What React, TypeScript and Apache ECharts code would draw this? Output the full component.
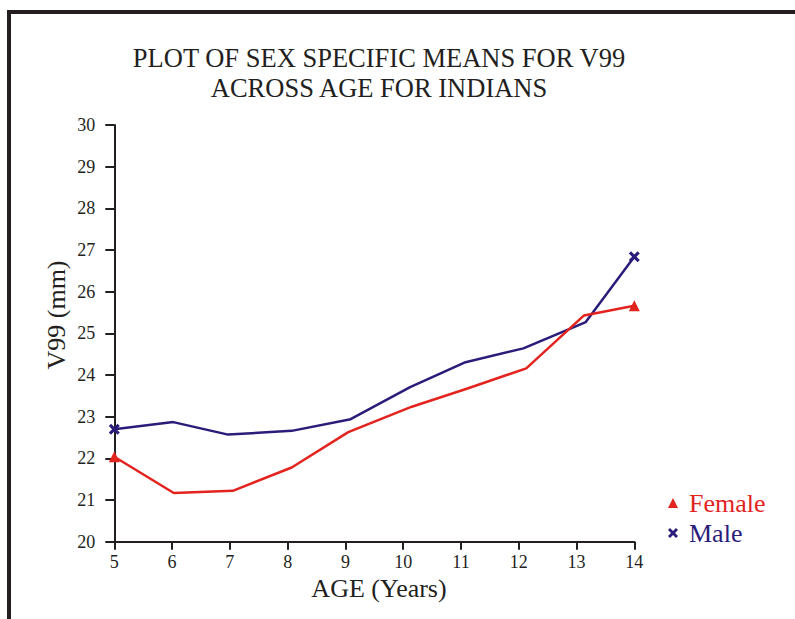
import React, { useEffect, useRef } from "react";
import * as echarts from "echarts";

const titleLines = ["PLOT OF SEX SPECIFIC MEANS FOR V99", "ACROSS AGE FOR INDIANS"];
const xAxisName = "AGE (Years)";
const yAxisName = "V99 (mm)";

const femaleAges = [5, 6.03, 7.05, 8.07, 9.05, 10.15, 11.1, 12.13, 13.13, 14];
const femaleMeans = [22.04, 21.17, 21.22, 21.78, 22.63, 23.24, 23.67, 24.16, 25.43, 25.66];

const maleAges = [5, 6.02, 6.97, 8.07, 9.09, 10.12, 11.06, 12.08, 13.16, 14];
const maleMeans = [22.7, 22.87, 22.57, 22.66, 22.94, 23.71, 24.3, 24.64, 25.27, 26.84];

const seriesNames = ["Female", "Male"];

const RED = "#e2231e";
const NAVY = "#2b1c7a";
const INK = "#231f20";
const FONT = "Liberation Serif";
const X_ICON = "path://M0,2L2,0L5,3L8,0L10,2L7,5L10,8L8,10L5,7L2,10L0,8L3,5Z";

function buildData(ages: number[], values: number[]) {
  return ages.map((a, i) => {
    const isEnd = i === 0 || i === ages.length - 1;
    return isEnd ? { value: [a, values[i]] } : { value: [a, values[i]], symbol: "none" };
  });
}

export default function App() {
  const ref = useRef<HTMLDivElement>(null);
  useEffect(() => {
    if (!ref.current) return;
    const chart = echarts.init(ref.current, undefined, { renderer: "svg" });
    chart.setOption({
      animation: false,
      backgroundColor: "#ffffff",
      textStyle: { fontFamily: FONT },
      title: {
        text: titleLines.join("\n"),
        left: 374,
        top: 38,
        textAlign: "center",
        textStyle: {
          fontFamily: FONT,
          fontSize: 26.5,
          fontWeight: "normal",
          color: INK,
          lineHeight: 30,
        },
      },
      legend: {
        orient: "vertical",
        left: 663,
        top: 485,
        itemWidth: 10,
        itemHeight: 10,
        itemGap: 4,
        textStyle: { fontFamily: FONT, fontSize: 26, padding: [0, 0, 0, 6] },
        data: [
          { name: seriesNames[0], icon: "triangle", textStyle: { color: RED, fontFamily: FONT } },
          { name: seriesNames[1], icon: X_ICON, textStyle: { color: NAVY, fontFamily: FONT } },
        ],
      },
      grid: { left: 114.3, right: 160.7, top: 125, bottom: 77.3, containLabel: false },
      xAxis: {
        type: "value",
        min: 5,
        max: 14,
        interval: 1,
        splitLine: { show: false },
        axisLine: { lineStyle: { color: INK, width: 2 } },
        axisTick: { length: 8, lineStyle: { color: INK, width: 2 } },
        axisLabel: { fontFamily: FONT, fontSize: 18, color: INK, margin: 11 },
      },
      yAxis: {
        type: "value",
        min: 20,
        max: 30,
        interval: 1,
        splitLine: { show: false },
        axisLine: { show: true, lineStyle: { color: INK, width: 2 } },
        axisTick: { show: true, length: 9, lineStyle: { color: INK, width: 2 } },
        axisLabel: { fontFamily: FONT, fontSize: 18, color: INK, margin: 19 },
      },
      graphic: [
        {
          type: "line",
          shape: { x1: 9, y1: 12, x2: 9, y2: 619 },
          style: { stroke: INK, lineWidth: 4 },
        },
        {
          type: "line",
          shape: { x1: 7, y1: 12, x2: 795, y2: 12 },
          style: { stroke: INK, lineWidth: 4 },
        },
        {
          type: "text",
          x: 56,
          y: 315,
          rotation: Math.PI / 2,
          style: {
            text: yAxisName,
            fontFamily: FONT,
            fontSize: 26,
            fill: INK,
            textAlign: "center",
            textVerticalAlign: "middle",
          },
        },
        {
          type: "text",
          x: 379,
          y: 588,
          style: {
            text: xAxisName,
            fontFamily: FONT,
            fontSize: 26,
            fill: INK,
            textAlign: "center",
            textVerticalAlign: "middle",
          },
        },
      ],
      series: [
        {
          name: seriesNames[0],
          type: "line",
          data: buildData(femaleAges, femaleMeans),
          symbol: "triangle",
          symbolSize: 11,
          clip: false,
          lineStyle: { color: RED, width: 2.5 },
          itemStyle: { color: RED },
          z: 3,
        },
        {
          name: seriesNames[1],
          type: "line",
          data: buildData(maleAges, maleMeans),
          symbol: X_ICON,
          symbolSize: 11,
          clip: false,
          lineStyle: { color: NAVY, width: 2.5 },
          itemStyle: { color: NAVY },
          z: 2,
        },
      ],
    });
    return () => chart.dispose();
  }, []);
  return (
    <div
      ref={ref}
      style={{ position: "fixed", left: 0, top: 0, width: 795, height: 619, background: "#fff" }}
    />
  );
}
